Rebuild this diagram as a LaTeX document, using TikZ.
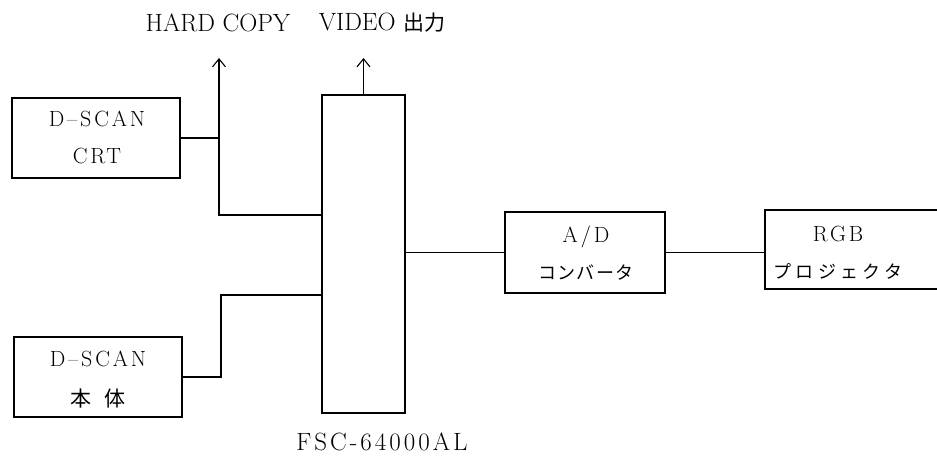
\documentclass[tikz,border=0pt]{standalone}
\usepackage{fontspec}
\setmainfont{Latin Modern Roman}
\newfontfamily\jp{Noto Sans CJK JP}
\usetikzlibrary{arrows.meta}
\tikzset{
  blk/.style={draw, line width=1.1pt, inner sep=0pt, align=center},
  txt/.style={inner sep=0pt, align=center, font=\fontsize{22}{37}\selectfont},
  wire/.style={line width=1.1pt},
  arr/.style={wire, -{Straight Barb[length=8pt,width=13pt,line width=1.1pt]}},
  lbl/.style={inner sep=0pt, font=\fontsize{25}{28}\selectfont},
}
\newcommand{\bxt}[1]{{\addfontfeatures{LetterSpace=13}#1}}
\newcommand{\jpt}[2]{{\jp\fontsize{18}{37}\selectfont\addfontfeatures{LetterSpace=#1}#2}}
\begin{document}
\begin{tikzpicture}[x=1pt,y=-1pt]
\useasboundingbox (0,0) rectangle (937,456);
\clip (0,0) rectangle (937,456);
% blocks
\node[blk, minimum width=168pt, minimum height=80pt] (crt) at (96,138) {};
\node[txt] (crtt) at (97,137) {\bxt{D–SCAN}\\\bxt{CRT}};
\node[blk, minimum width=168pt, minimum height=80pt] (bt) at (98,377) {};
\node[txt, font=\fontsize{22}{40}\selectfont] (btt) at (98,380) {\bxt{D–SCAN}\\{\jp\fontsize{21}{40}\selectfont 本\hspace{13pt}体}};
\node[blk, minimum width=83pt, minimum height=318pt] (fsc) at (363.5,254) {};
\node[blk, minimum width=160pt, minimum height=81pt] (ad) at (585,252.5) {};
\node[txt] (adt) at (586,253) {\bxt{A/D}\\\jpt{8}{コンバータ}};
\node[blk, minimum width=240pt, minimum height=79pt] (rgb) at (885,249.5) {};
\node[txt] (rgbt) at (838,253) {\bxt{RGB}\\\jpt{24}{プロジェクタ}};
% labels
\node[lbl] (hcl) at (218,23) {HARD COPY};
\node[lbl] (vdl) at (382,23) {VIDEO {\jp\fontsize{21}{22}\selectfont 出力}};
\node[lbl, font=\fontsize{25}{28}\selectfont\addfontfeatures{LetterSpace=12}] (fscl) at (382,442) {FSC-64000AL};
% connectors
\coordinate (hc) at (219,58);
\coordinate (j1) at (219,215);
\coordinate (j2) at (221,295);
\draw[arr] (fsc.west |- j1) -| (hc);
\draw[wire] (crt.east) -- (crt.east -| hc);
\draw[arr] (fsc.north) -- (fsc.north |- hc);
\draw[wire] (bt.east) -| (j2) -- (fsc.west |- j2);
\draw[wire] (fsc.east |- ad.west) -- (ad.west);
\draw[wire] (ad.east) -- (ad.east -| rgb.west);
\end{tikzpicture}
\end{document}
